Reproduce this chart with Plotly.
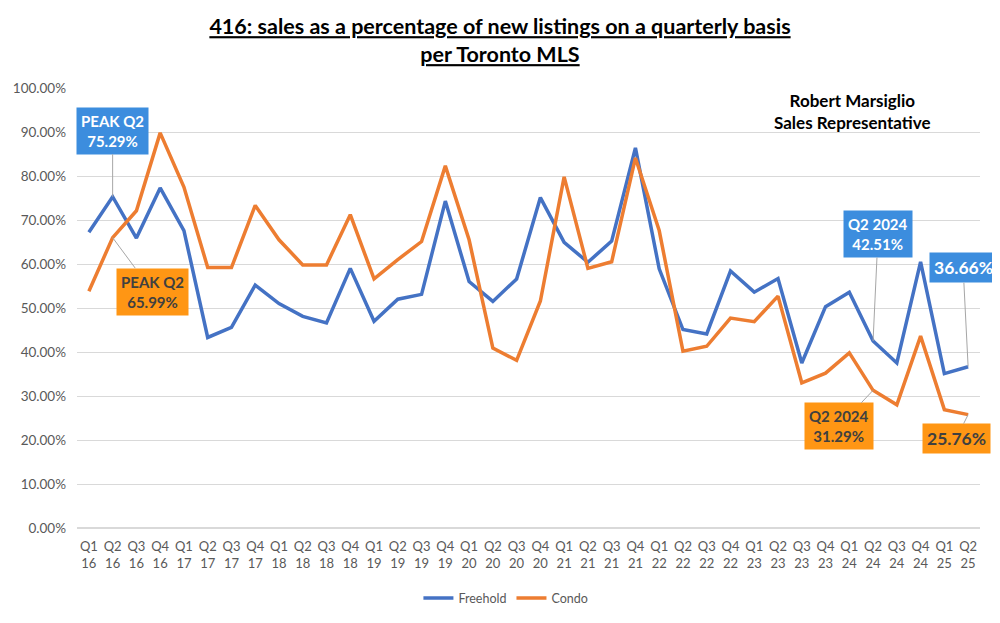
import plotly.graph_objects as go

quarters = ["Q1", "Q2", "Q3", "Q4"]
years = ["16", "17", "18", "19", "20", "21", "22", "23", "24", "25"]
categories = [f"{q}<br>{y}" for y in years for q in quarters][:38]

freehold = [67.2, 75.29, 65.9, 77.3, 67.6, 43.3, 45.6, 55.2, 51.0, 48.1,
            46.6, 59.0, 47.0, 52.0, 53.1, 74.3, 56.0, 51.5, 56.6, 75.1,
            64.9, 60.4, 65.2, 86.4, 58.9, 45.1, 44.1, 58.4, 53.6, 56.7,
            37.5, 50.3, 53.6, 42.51, 37.5, 60.5, 35.1, 36.66]
condo = [53.8, 65.99, 72.1, 89.8, 77.5, 59.2, 59.2, 73.3, 65.5, 59.8,
         59.8, 71.2, 56.6, 61.0, 65.1, 82.3, 65.5, 40.9, 38.1, 51.6,
         79.8, 59.0, 60.5, 84.1, 67.6, 40.2, 41.3, 47.7, 46.9, 52.7,
         33.0, 35.2, 39.8, 31.29, 28.0, 43.6, 26.9, 25.76]

freehold_f = [v / 100 for v in freehold]
condo_f = [v / 100 for v in condo]

BLUE = "#4472C4"
ORANGE = "#ED7D31"
BOX_BLUE = "#3C8DDE"
BOX_ORANGE = "#FF9614"
FONT = "Lato"

fig = go.Figure()
fig.add_trace(go.Scatter(x=categories, y=freehold_f, mode="lines", name="Freehold",
                         line=dict(color=BLUE, width=3.5)))
fig.add_trace(go.Scatter(x=categories, y=condo_f, mode="lines", name="Condo",
                         line=dict(color=ORANGE, width=3.5)))

def label(idx, series, text, ax, ay, bg, fc, size=15):
    fig.add_annotation(x=categories[idx], y=series[idx], text=text,
                       showarrow=True, arrowhead=0, arrowwidth=1, arrowcolor="#A6A6A6",
                       ax=ax, ay=ay, standoff=0, bgcolor=bg, borderpad=4,
                       font=dict(family=FONT, size=size, color=fc))

label(1, freehold_f, "<b>PEAK Q2<br>75.29%</b>", 0, -66, BOX_BLUE, "white")
label(1, condo_f, "<b>PEAK Q2<br>65.99%</b>", 40, 54, BOX_ORANGE, "#404040")
label(33, freehold_f, "<b>Q2 2024<br>42.51%</b>", 5, -107, BOX_BLUE, "white")
label(37, freehold_f, "<b>36.66%</b>", -5, -99, BOX_BLUE, "white", 17.5)
label(33, condo_f, "<b>Q2 2024<br>31.29%</b>", -34, 36, BOX_ORANGE, "#404040")
label(37, condo_f, "<b>25.76%</b>", -12, 24, BOX_ORANGE, "#404040", 17.5)

fig.add_annotation(xref="paper", yref="paper", x=0.859, xanchor="center",
                   y=1.0, yanchor="top",
                   text="<b>Robert Marsiglio<br>Sales Representative</b>",
                   showarrow=False, font=dict(family=FONT, size=17, color="black"))

fig.update_layout(
    width=1000, height=623,
    paper_bgcolor="white", plot_bgcolor="white",
    margin=dict(l=69, r=28, t=80, b=103, autoexpand=False),
    title=dict(text="<b><u>416: sales as a percentage of new listings on a quarterly basis</u><br><u>per Toronto MLS</u></b>",
               x=0.492, xref="container", xanchor="center",
               y=0.958, yref="container", yanchor="top",
               font=dict(family=FONT, size=21.5, color="black")),
    font=dict(family=FONT, color="#595959"),
    legend=dict(orientation="h", x=0.475, xanchor="center",
                y=-0.16, yanchor="middle", font=dict(size=12.5, color="#595959")),
    showlegend=True,
)
fig.update_xaxes(type="category", range=[-0.5, 37.5], showgrid=False, showline=False,
                 ticks="", tickangle=0, automargin=False, ticklabelstandoff=9,
                 tickfont=dict(family=FONT, size=13, color="#595959"))
fig.update_yaxes(range=[0, 1], dtick=0.1, tickformat=".2%", showgrid=True,
                 gridcolor="#D9D9D9", gridwidth=1, zeroline=True, zerolinecolor="#D9D9D9",
                 showline=False, ticks="", ticklabelstandoff=10, automargin=False,
                 tickfont=dict(family=FONT, size=13.5, color="#595959"))

fig.write_html("out.html")
